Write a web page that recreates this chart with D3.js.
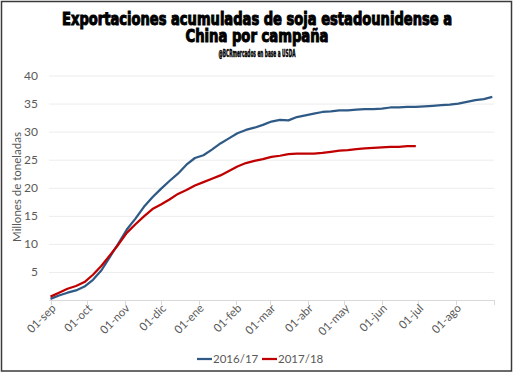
<!DOCTYPE html>
<html>
<head>
<meta charset="utf-8">
<script src="https://cdn.jsdelivr.net/npm/d3@7"></script>
<style>
  body { margin: 0; background: #fff; }
  text { font-family: Lato, "Open Sans", sans-serif; fill: #595959; }
  .ttl { font-family: "Liberation Sans Narrow", "DejaVu Sans Condensed", sans-serif; font-weight: bold; fill: #000; stroke: #000; }
</style>
</head>
<body>
<div id="graph"></div>
<script>
// weekly dates of the marketing year (sep -> aug)
var weeks = ['09-01','09-08','09-15','09-22','09-29','10-06','10-13','10-20','10-27',
  '11-03','11-10','11-17','11-24','12-01','12-08','12-15','12-22','12-29',
  '01-05','01-12','01-19','01-26','02-02','02-09','02-16','02-23',
  '03-02','03-09','03-16','03-23','03-30','04-06','04-13','04-20','04-27',
  '05-04','05-11','05-18','05-25','06-01','06-08','06-15','06-22','06-29',
  '07-06','07-13','07-20','07-27','08-03','08-10','08-17','08-24','08-31']

var v1617 = [0.2,0.8,1.3,1.7,2.4,3.6,5.3,7.7,10.1,12.6,14.5,16.6,18.3,19.8,21.2,22.5,24.1,25.3,
  25.8,26.8,27.9,28.8,29.7,30.3,30.7,31.2,31.8,32.1,32.0,32.6,32.9,33.2,33.5,33.6,33.8,
  33.8,33.9,34.0,34.0,34.1,34.3,34.3,34.4,34.4,34.5,34.6,34.7,34.8,35.0,35.3,35.6,35.8,36.2]

var v1718 = [0.6,1.3,2.0,2.5,3.2,4.5,6.1,8.0,9.9,12.0,13.5,14.9,16.2,17.0,17.9,18.9,19.6,20.4,
  21.0,21.6,22.2,23.0,23.8,24.4,24.8,25.1,25.5,25.7,26.0,26.1,26.1,26.1,26.2,26.4,26.6,
  26.7,26.9,27.0,27.1,27.2,27.3,27.3,27.4,27.4]

var seriesNames = ['2016/17', '2017/18']
var colors = ['#2f5a86', '#c00000']
var xTickLabels = ['01-sep','01-oct','01-nov','01-dic','01-ene','01-feb','01-mar',
  '01-abr','01-may','01-jun','01-jul','01-ago']
var yTicks = [5, 10, 15, 20, 25, 30, 35, 40]

var parse = s => {
  var [m, d] = s.split('-').map(d => +d)
  return new Date(m >= 9 ? 2000 : 2001, m - 1, d)
}

var series = [v1617, v1718].map((vals, i) => ({
  name: seriesNames[i],
  color: colors[i],
  pts: vals.map((v, j) => ({date: parse(weeks[j]), val: v}))
}))

var width = 515, height = 376

var svg = d3.select('#graph').html('').append('svg')
  .attr('width', width).attr('height', height)

svg.append('rect')
  .attr('x', 1.5).attr('y', 1.5).attr('width', 510).attr('height', 369.5)
  .attr('fill', '#fff').attr('stroke', '#3a3a3a').attr('stroke-width', 1.5)

var x = d3.scaleTime()
  .domain([new Date(2000, 8, 1), new Date(2001, 8, 1)])
  .range([50.5, 493.5])

var y = d3.scaleLinear().domain([0, 40]).range([300, 75.5])

// gridlines
svg.append('g').selectAll('line').data(yTicks).join('line')
  .attr('x1', 49).attr('x2', 494)
  .attr('y1', d => y(d) + .5).attr('y2', d => y(d) + .5)
  .attr('stroke', '#ececec')

// y axis labels
svg.append('g').selectAll('text').data(yTicks).join('text')
  .text(d => d)
  .attr('x', 38).attr('y', d => y(d))
  .attr('dy', '.35em')
  .attr('text-anchor', 'end')
  .attr('font-size', 12)

svg.append('text')
  .text('Millones de toneladas')
  .attr('transform', 'translate(21,187) rotate(-90)')
  .attr('text-anchor', 'middle')
  .attr('font-size', 11.5)

// x axis
var tickDates = xTickLabels.map((d, i) => new Date(i < 4 ? 2000 : 2001, (i + 8) % 12, 1))
  .concat([new Date(2001, 8, 1)])

var xAxis = svg.append('g')
svg.append('line')
  .attr('x1', 49).attr('x2', 494).attr('y1', 300.5).attr('y2', 300.5)
  .attr('stroke', '#d9d9d9')

xAxis.selectAll('line').data(tickDates).join('line')
  .attr('x1', d => Math.round(x(d)) + .5).attr('x2', d => Math.round(x(d)) + .5)
  .attr('y1', 300).attr('y2', 305)
  .attr('stroke', '#d9d9d9')

xAxis.selectAll('text').data(xTickLabels).join('text')
  .text(d => d)
  .attr('transform', (d, i) => `translate(${x(tickDates[i]) + 6},309) rotate(-45)`)
  .attr('text-anchor', 'end')
  .attr('font-size', 11.5)

// lines
var line = d3.line()
  .x(d => x(d.date))
  .y(d => y(d.val))

svg.append('g').selectAll('path').data(series).join('path')
  .attr('d', d => line(d.pts))
  .attr('fill', 'none')
  .attr('stroke', d => d.color)
  .attr('stroke-width', 2.25)
  .attr('stroke-linejoin', 'round')

// legend
var lg = svg.append('g').selectAll('g').data(series).join('g')
  .attr('transform', (d, i) => `translate(${197 + i * 65},359)`)
lg.append('line').attr('x2', 15).attr('stroke', d => d.color).attr('stroke-width', 2.25)
lg.append('text').text(d => d.name)
  .attr('x', 16).attr('dy', '.35em').attr('font-size', 11.5)

// titles
var titles = [
  {t: 'Exportaciones acumuladas de soja estadounidense a', y: 25, size: 17.5, len: 390},
  {t: 'China por campaña', y: 42, size: 17.5, len: 143},
  {t: '@BCRmercados en base a USDA', y: 57, size: 10, len: 77}
]
svg.append('g').selectAll('text').data(titles).join('text')
  .attr('class', 'ttl')
  .text(d => d.t)
  .attr('x', 257).attr('y', d => d.y)
  .attr('text-anchor', 'middle')
  .attr('font-size', d => d.size)
  .attr('stroke-width', d => d.size > 12 ? 1 : .45)
  .attr('textLength', d => d.len)
  .attr('lengthAdjust', 'spacingAndGlyphs')
</script>
</body>
</html>
